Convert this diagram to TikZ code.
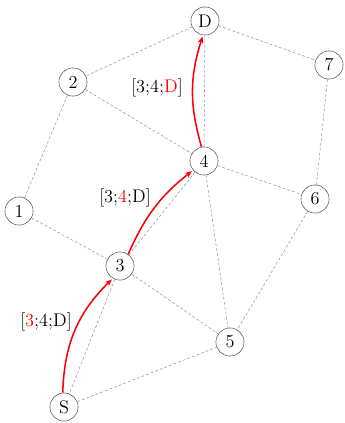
\documentclass[tikz,border=0pt]{standalone}
\usetikzlibrary{arrows.meta}

\begin{document}
\begin{tikzpicture}[x=0.025cm, y=-0.025cm, every node/.style={circle,draw=black!65,minimum size=20pt,inner sep=0pt,font=\fontsize{13}{15}\selectfont},
  lbl/.style={draw=none,rectangle,inner sep=1pt}, link/.style={dashed,dash pattern=on 2pt off 1.5pt,black!40,thin},
  hop/.style={-{Stealth[length=5pt,width=4pt]},red,line width=1.1pt,shorten >=1pt}]
\useasboundingbox (0,0) rectangle (344,423);
\node (D) at (205,21) {D}; \node (n2) at (73,82) {2}; \node (n7) at (329,65) {7};
\node (n4) at (204,161) {4}; \node (n6) at (315,199) {6}; \node (n1) at (19,211) {1};
\node (n3) at (120,266) {3}; \node (n5) at (230,342) {5}; \node (S) at (64,407) {S};
\draw[link] (D)--(n2) (D)--(n7) (D)--(n4) (n2)--(n1) (n2)--(n4) (n7)--(n6) (n4)--(n6) (n4)--(n3) (n4)--(n5);
\draw[link] (n1)--(n3) (n3)--(n5) (n3)--(S) (S)--(n5) (n6)--(n5);
\draw[hop] (S.95) to[bend left=22] (n3.240); \draw[hop] (n3.55) to[bend left=14] (n4.220); \draw[hop] (n4.100) to[bend left=17] (D.262);
\node[lbl] (l1) at (46,322) {[\textcolor{red}{3};4;D]}; \node[lbl] (l2) at (125,198) {[3;\textcolor{red}{4};D]};
\node[lbl] (l3) at (157,88) {[3;4;\textcolor{red}{D}]};
\end{tikzpicture}
\end{document}
